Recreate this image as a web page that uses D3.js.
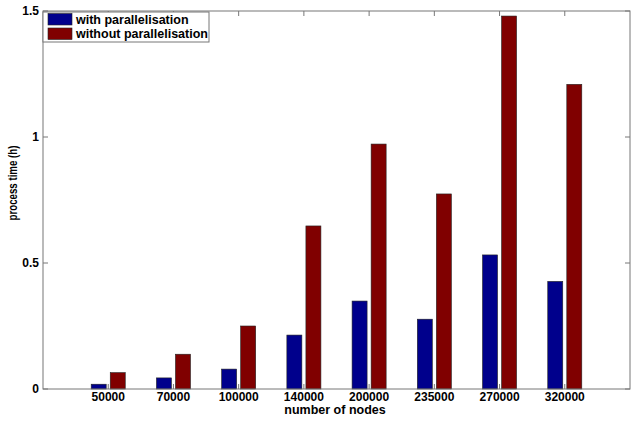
<!DOCTYPE html>
<html lang="en">
<head>
<meta charset="UTF-8">
<script src="https://cdn.jsdelivr.net/npm/d3@7"></script>
<style>
  body { margin: 0; background: #fff; }
  text { font-family: Arial, "Liberation Sans", sans-serif; }
</style>
</head>
<body>
<svg id="chart" width="639" height="421"></svg>
<script>
// data
var categories = ["50000", "70000", "100000", "140000", "200000", "235000", "270000", "320000"];
var withPar = [0.019, 0.044, 0.079, 0.214, 0.349, 0.277, 0.532, 0.427];
var withoutPar = [0.065, 0.138, 0.25, 0.647, 0.972, 0.774, 1.48, 1.209];
var seriesNames = ["with parallelisation", "without parallelisation"];
var yTicks = [0, 0.5, 1, 1.5];

var colors = ["#00008c", "#800000"];
var axisColor = "#777";

// plot area (window.top is reserved, so use other names)
var pLeft = 43, pRight = 630, pTop = 11, pBottom = 389;
var svg = d3.select("#chart");

var x = d3.scaleLinear().domain([0, categories.length + 1]).range([pLeft, pRight]);
var y = d3.scaleLinear().domain([0, 1.5]).range([pBottom, pTop]);

var barW = 0.23, offset = 0.146;

// bars
var series = [withPar, withoutPar];
series.forEach(function(vals, s) {
  svg.selectAll(".bar" + s)
    .data(vals)
    .enter()
    .append("rect")
    .attr("class", "bar" + s)
    .attr("x", function(d, i) { return x(i + 1 + (s == 0 ? -offset : offset) - barW / 2); })
    .attr("width", x(barW) - x(0))
    .attr("y", function(d) { return y(d); })
    .attr("height", function(d) { return y(0) - y(d); })
    .attr("fill", colors[s])
    .attr("stroke", "#222")
    .attr("stroke-width", 0.6);
});

// box
svg.append("rect")
  .attr("x", pLeft).attr("y", pTop)
  .attr("width", pRight - pLeft).attr("height", pBottom - pTop)
  .attr("fill", "none").attr("stroke", axisColor).attr("stroke-width", 1);

// x ticks (inward, bottom and top)
var xt = d3.range(1, categories.length + 1);
svg.selectAll(".xtb").data(xt).enter().append("line")
  .attr("x1", function(d) { return x(d); }).attr("x2", function(d) { return x(d); })
  .attr("y1", pBottom).attr("y2", pBottom - 5)
  .attr("stroke", axisColor);
svg.selectAll(".xtt").data(xt).enter().append("line")
  .attr("x1", function(d) { return x(d); }).attr("x2", function(d) { return x(d); })
  .attr("y1", pTop).attr("y2", pTop + 5)
  .attr("stroke", axisColor);
svg.selectAll(".xl").data(categories).enter().append("text")
  .attr("x", function(d, i) { return x(i + 1); })
  .attr("y", pBottom + 12)
  .attr("text-anchor", "middle")
  .attr("font-size", "12px").attr("font-weight", "bold")
  .text(function(d) { return d; });

// y ticks
svg.selectAll(".ytl").data(yTicks).enter().append("line")
  .attr("x1", pLeft).attr("x2", pLeft + 5)
  .attr("y1", function(d) { return y(d); }).attr("y2", function(d) { return y(d); })
  .attr("stroke", axisColor);
svg.selectAll(".ytr").data(yTicks).enter().append("line")
  .attr("x1", pRight).attr("x2", pRight - 5)
  .attr("y1", function(d) { return y(d); }).attr("y2", function(d) { return y(d); })
  .attr("stroke", axisColor);
svg.selectAll(".yl").data(yTicks).enter().append("text")
  .attr("x", pLeft - 4)
  .attr("y", function(d) { return y(d); })
  .attr("dy", "0.35em")
  .attr("text-anchor", "end")
  .attr("font-size", "12px").attr("font-weight", "bold")
  .text(function(d) { return d; });

// axis labels
svg.append("text")
  .attr("x", 335).attr("y", 414)
  .attr("text-anchor", "middle")
  .attr("font-size", "12.5px").attr("font-weight", "bold")
  .text("number of nodes");
svg.append("text")
  .attr("transform", "translate(17,183) rotate(-90)")
  .attr("text-anchor", "middle")
  .attr("font-size", "12px").attr("font-weight", "bold")
  .attr("textLength", 75).attr("lengthAdjust", "spacingAndGlyphs")
  .text("process time (h)");

// legend
var lg = svg.append("g");
lg.append("rect")
  .attr("x", pLeft).attr("y", pTop + 1)
  .attr("width", 166).attr("height", 30)
  .attr("fill", "#fff").attr("stroke", axisColor);
seriesNames.forEach(function(name, i) {
  lg.append("rect")
    .attr("x", 48).attr("y", 13.5 + i * 14.5)
    .attr("width", 24).attr("height", 11.5)
    .attr("fill", colors[i]).attr("stroke", "#222").attr("stroke-width", 0.6);
  lg.append("text")
    .attr("x", 76).attr("y", 19.5 + i * 14.5)
    .attr("dy", "0.35em")
    .attr("font-size", "12.5px").attr("font-weight", "bold")
    .text(name);
});
</script>
</body>
</html>
